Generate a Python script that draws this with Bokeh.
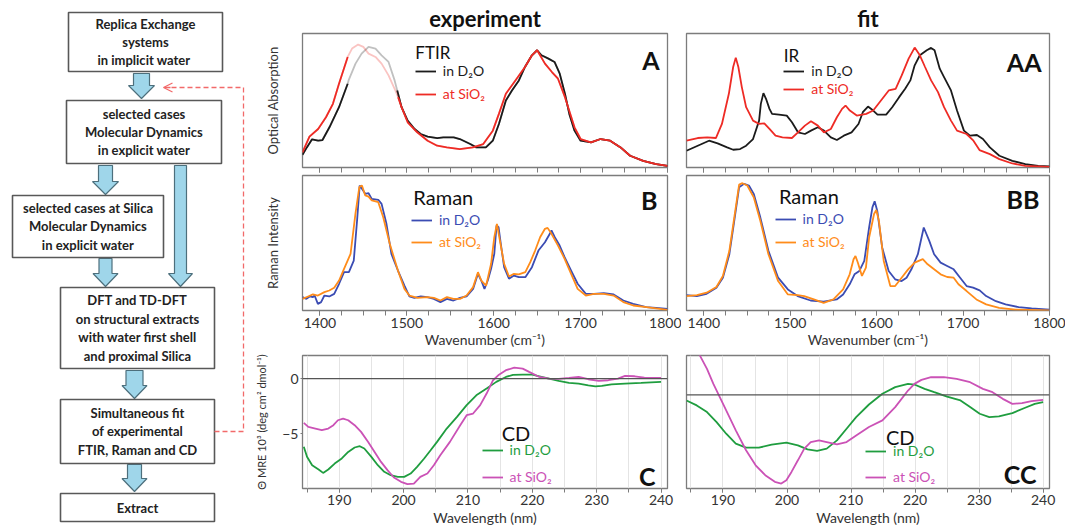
import numpy as np
from bokeh.plotting import figure
from bokeh.layouts import row, column
from bokeh.models import Range1d, FixedTicker, Legend, LegendItem, Label, Span, Arrow, OpenHead
from bokeh.core.properties import value
from bokeh.embed import file_html
from bokeh.resources import INLINE

FONT = "Lato"

# ---------------- data ----------------
# A: FTIR experiment
ftir_exp_d2o_x = [1380,1385,1391,1398,1403,1411,1422,1432,1433,1441,1448,1456,1464,1471,1479,1486,1489,1494,1501,1509,
                  1516,1524,1535,1542,1554,1561,1573,1580,1591,1599,1606,1614,1621,1629,1636,1644,1650,1655,1663,1670,
                  1676,1682,1687,1693,1700,1712,1723,1734,1746,1757,1772,1787,1800]
ftir_exp_d2o_y = [9.5,15,21,20,20.5,30,45,62.5,65,77.5,85,90,88.75,83.75,78.75,65,57.5,45,35,28.75,
                  25,23,22,22.5,22.5,21.25,17.5,15,15,20,32.5,50,57.5,65,75,83.75,87.5,83.75,81.25,78.75,
                  70,55,40,27.5,20,18.75,21.25,20,15,8.75,5,2.5,1.25]
ftir_exp_sio2_x = [1380,1388,1398,1407,1415,1422,1432,1437,1444,1450,1456,1464,1471,1479,1486,1490,1494,1501,1512,1524,
                   1535,1546,1561,1576,1588,1599,1606,1614,1625,1636,1644,1650,1659,1667,1674,1682,1693,1700,1712,1723,
                   1734,1746,1757,1772,1787,1800]
ftir_exp_sio2_y = [11.25,23,28.75,37.5,47.5,62.5,82.5,88.75,91.75,90,85,82.5,77.5,68.75,58.75,52.5,45,33.75,26.25,20,
                   16.25,15,13.75,15,17.5,27.5,40,55,65,75,83.75,87.5,77.5,71.25,66.25,52.5,30,21.25,18.75,21.25,
                   20,15,8.75,5,2.5,1.25]
ftir_faded_band = (1432.5, 1488.5)

# AA: IR fit
ir_fit_d2o_x = [1380,1393,1406,1416,1427,1434,1442,1449,1457,1464,1466,1469,1472,1476,1479,1487,1496,1502,1509,1517,
                1524,1532,1539,1547,1554,1562,1571,1579,1584,1590,1596,1601,1611,1618,1626,1633,1639,1644,1650,1658,
                1663,1667,1673,1678,1686,1693,1701,1708,1716,1723,1731,1742,1757,1772,1787,1800]
ir_fit_d2o_y = [12.5,16.25,20,18,15,13.25,13.75,16.25,21.25,35,47.5,55.5,51.25,43.75,40,39.5,38.75,33.75,26.25,25,
                27.5,30,27.5,22.5,20.5,23.75,26.25,32.5,41.25,45.5,42.5,39.5,39.5,45,52.5,58.75,65,76.25,83.75,87.5,
                89.25,87.5,73.75,67.5,57.5,42.5,27.5,23.75,24.25,21.25,15,8.75,5,2.5,1.25,0.75]
ir_fit_sio2_x = [1380,1393,1404,1414,1421,1429,1434,1437,1440,1444,1449,1457,1464,1470,1476,1483,1491,1502,1509,1517,
                 1524,1532,1539,1547,1554,1560,1564,1569,1577,1588,1596,1605,1614,1622,1629,1637,1644,1650,1656,1663,
                 1671,1678,1686,1693,1704,1712,1719,1731,1742,1757,1772,1800]
ir_fit_sio2_y = [20,22,22.5,22,32.5,55,75,82,75,60,45,35,32.5,33,28.75,23.75,22.5,22,26.25,31.25,
                 34.5,31.25,26.25,28.75,37.5,43.75,46.25,42.5,38.75,40,42.5,50,57.5,58.75,68.75,81.25,89.5,83.75,75,65,
                 56.25,45,35,27.5,25,20,13,10,6.25,3,1.25,0.5]

# B: Raman experiment
raman_exp_d2o_x = [1380,1384.5,1388.3,1392,1393.9,1397.7,1401.4,1405.2,1410.8,1416.5,1422.1,1427.8,1433.4,1439,1442.8,1445.8,
                   1448.4,1452.2,1456,1459.7,1467.2,1471,1476.6,1482.3,1489.8,1497.3,1503,1508.6,1516.1,1523.6,1531.2,
                   1538.7,1546.2,1553.7,1561.2,1568.8,1576.3,1581.9,1585.7,1589.4,1593.2,1597,1600.7,1603.3,1605.6,
                   1608.2,1612,1617.6,1623.3,1628.9,1636.4,1644,1651.5,1659,1664.6,1666.5,1670.3,1675.9,1681.6,1689.1,
                   1696.6,1706,1715.4,1726.7,1738,1749.2,1760.5,1775.6,1786.8,1800]
raman_exp_d2o_y = [9.9,8.6,10.4,9.9,11.1,4.9,6.2,11.1,10.4,12.3,19.8,28.4,28.4,37,66.7,92.6,
                   90.1,86.4,86.9,82.7,82,79,64.2,42,29.6,18.5,10.4,9.4,10.4,9.9,8.6,
                   6.2,8.6,7.4,9.4,10.4,16,27.2,22.2,16,22.2,30.9,42,63,61.7,
                   49.4,32.1,23.5,25.9,24.7,24.7,32.1,44.4,50.6,56.8,59.3,54.3,48.1,39.5,29.6,
                   19.8,12.3,12.3,12.8,11.9,7.4,4.9,2.5,2,1.2]
raman_exp_sio2_x = [1380,1386.4,1392,1397.7,1405.2,1410.8,1416.5,1422.1,1427.8,1435.3,1440.9,1445.4,1448.4,1452.2,1456,
                    1459.7,1467.2,1472.9,1480.4,1489.8,1497.3,1503,1512.4,1523.6,1531.2,1538.7,1546.2,1553.7,1561.2,
                    1568.8,1576.3,1581.9,1585.7,1591.3,1597,1600.7,1603.7,1607.1,1612,1617.6,1623.3,1628.9,1636.4,
                    1642.1,1647.7,1653.4,1659,1662,1666.5,1674,1681.6,1689.1,1696.6,1706,1715.4,1726.7,1738,1749.2,
                    1760.5,1775.6,1800]
raman_exp_sio2_y = [8.6,10.4,11.9,11.1,13.6,14.8,16.8,22.2,30.9,42,71.6,91.4,92.6,85.2,84.4,
                    81.5,80.2,69.1,49.4,29.6,16,11.1,9.4,9.9,9.4,7.4,9.9,8.6,8.6,
                    11.1,17.3,28.4,22.2,18.5,34.6,54.3,64.2,51.9,34.6,25.2,27.2,26.7,28.4,
                    35.8,44.4,54.3,60.5,61.2,56.8,48.1,38.3,27.2,16,11.1,12.3,12.3,11.1,6.2,
                    3.7,2.5,0.5]

# BB: Raman fit
raman_fit_d2o_x = [1380,1392,1403.3,1414.6,1422.1,1429.6,1435.3,1440.9,1446.6,1452.2,1457.8,1465.4,1474.8,1486,1497.3,
                   1508.6,1523.6,1538.7,1553.7,1561.2,1568.8,1574.4,1580,1585.7,1591.3,1595.1,1597.7,1600.7,1606.4,
                   1613.9,1621.4,1628.9,1634.6,1640.2,1647.7,1654.5,1660.9,1666.5,1674,1681.6,1689.1,1696.6,1704.1,
                   1711.6,1719.2,1726.7,1738,1749.2,1764.3,1779.3,1800]
raman_fit_d2o_y = [11.4,10.7,12.4,16.9,24.3,41.7,66.5,91.3,93.8,92.6,86.4,69,44.2,24.3,15.6,
                   10.7,7.4,6.5,8.2,11.9,19.4,26.8,29.3,36.7,61.5,76.4,80.9,73.9,46.7,
                   29.3,23.1,21.8,24.3,30.5,41.7,61.5,51.6,41.7,35.5,33,30.5,24.3,18.1,
                   16.9,14.9,10.7,6.9,4.5,2.5,1.5,0.7]
raman_fit_sio2_x = [1380,1392,1403.3,1414.6,1422.1,1429.6,1435.3,1440.9,1444.7,1450.3,1457.8,1465.4,1474.8,1486,1497.3,
                    1508.6,1516.1,1527.4,1538.7,1550,1561.2,1568.8,1573.3,1575.5,1578.2,1583,1587.6,1591.3,1597,1599.6,
                    1602.6,1608.2,1615.8,1621.4,1628.9,1636.4,1644,1653.4,1659,1666.5,1674,1681.6,1689.1,1694.7,1704.1,
                    1715.4,1726.7,1741.7,1760.5,1800]
raman_fit_sio2_y = [10.7,11.4,13.2,17.4,25.6,44.2,69,93.3,94.3,92.6,83.9,66.5,41.7,21.8,11.9,
                    11.4,10.7,8.2,5.7,8.2,15.6,26.8,38,40.4,35.5,25.6,31.8,54.1,71.5,74.4,
                    66.5,36.7,18.1,18.1,24.3,30.5,35.5,38,34.2,30.5,26.8,24.8,24.3,19.4,14.4,
                    8.2,4.5,2,0.7,0]

# C: CD experiment (10^3 deg cm2 dmol-1)
cd_exp_d2o_x = [184.5,185.0,185.8,186.8,187.5,188.3,189.3,190.4,191.4,192.4,193.2,193.9,195.0,196.0,197.0,198.0,199.1,
                200.1,201.1,202.1,203.2,204.2,205.2,206.7,208.3,209.8,211.3,212.9,214.4,215.9,217.0,218.5,220.0,221.1,
                222.6,224.1,225.7,227.2,228.7,229.8,230.8,232.3,234.4,236.9,240.0]
cd_exp_d2o_y = [-6.21,-7.12,-7.88,-8.27,-8.58,-8.27,-7.73,-7.27,-6.67,-6.27,-6.15,-6.36,-7.12,-7.88,-8.48,-8.79,-8.94,
                -8.94,-8.64,-8.03,-7.27,-6.52,-5.76,-4.55,-3.48,-2.42,-1.52,-0.91,-0.30,0.15,0.33,0.36,0.36,0.21,
                0.0,-0.21,-0.39,-0.45,-0.61,-0.70,-0.67,-0.52,-0.45,-0.39,-0.30]
cd_exp_sio2_x = [184.5,185.2,186.3,187.3,188.3,189.1,189.8,190.6,191.4,192.4,193.4,194.5,195.5,196.5,197.5,198.5,199.6,
                 200.6,201.6,202.6,203.7,204.7,205.7,207.2,208.8,209.8,210.8,211.9,212.9,213.9,214.7,215.9,217.2,218.5,
                 219.5,221.1,222.6,224.1,225.7,227.2,228.7,230.3,231.8,233.3,234.4,235.9,237.4,240.0]
cd_exp_sio2_y = [-4.03,-4.39,-4.55,-4.70,-4.55,-4.24,-3.79,-3.64,-3.79,-4.24,-4.85,-5.76,-6.67,-7.58,-8.33,-9.0,-9.39,
                 -9.61,-9.55,-8.94,-8.64,-7.88,-6.97,-5.76,-4.24,-3.33,-3.18,-2.42,-1.36,-0.15,0.30,0.76,1.0,0.91,
                 0.61,0.15,0.0,-0.03,0.06,0.15,-0.06,-0.21,-0.15,0.0,0.24,0.21,0.09,0.06]

# CC: CD fit
cd_fit_d2o_x = [184.3,185.9,187.5,189.0,190.5,192.0,193.6,195.6,197.6,199.9,201.7,203.2,204.7,206.2,207.8,209.3,210.8,
                212.8,214.9,216.9,218.9,219.9,221.5,223.0,225.0,227.1,228.6,230.1,231.6,233.1,235.2,237.2,238.7,240.0]
cd_fit_d2o_y = [-0.60,-1.13,-1.84,-2.91,-4.15,-5.21,-5.64,-5.64,-5.32,-5.11,-5.39,-5.82,-5.99,-5.74,-4.86,-3.62,-2.38,
                -1.03,0.11,0.82,1.17,1.10,0.64,0.28,-0.18,-0.60,-1.31,-2.02,-2.38,-2.30,-1.95,-1.38,-0.96,-0.78]
cd_fit_sio2_x = [185.4,186.4,187.5,188.5,189.5,190.5,192.0,193.6,195.1,196.6,198.1,199.1,199.9,200.7,201.7,202.7,203.7,
                 205.0,206.2,207.8,209.3,210.8,212.8,214.9,216.9,218.9,219.9,221.0,222.5,224.5,226.5,228.6,230.6,232.1,
                 233.7,235.2,236.7,238.2,240.0]
cd_fit_sio2_y = [5.78,4.18,2.77,1.17,-0.25,-1.67,-3.79,-5.92,-7.52,-8.58,-9.29,-9.47,-9.11,-8.23,-6.99,-5.74,-5.04,
                 -4.86,-5.04,-5.28,-5.04,-4.33,-3.44,-2.73,-1.31,0.46,1.17,1.60,1.88,1.88,1.70,1.35,0.64,0.28,
                 -0.43,-0.96,-0.89,-0.67,-0.53]

spec_ticks = [1400, 1500, 1600, 1700, 1800]
spec_minor = list(range(1400, 1801, 25))
cd_ticks = [190, 200, 210, 220, 230, 240]
cd_minor = list(range(185, 241, 5))
cd_yticks = [-5, 0]

# ---------------- flowchart geometry (page pixels) ----------------
BOX_L = [68, 66, 12, 60, 60, 60]
BOX_R = [222, 221, 163, 214, 214, 214]
BOX_T = [12, 100, 195, 287, 399, 493]
BOX_B = [71, 163, 257, 368, 463, 521]
BOX_TEXT = ["Replica Exchange\nsystems\nin  implicit water",
            "selected cases\nMolecular Dynamics\nin explicit water",
            "selected cases at Silica\nMolecular Dynamics\nin explicit water",
            "DFT and TD-DFT\non structural extracts\nwith water first shell\nand proximal Silica",
            "Simultaneous fit\nof experimental\nFTIR, Raman and CD",
            "Extract"]
ARR_CX = [141, 105, 180, 105, 134, 134]
ARR_Y0 = [73, 165, 165, 258, 370, 464]
ARR_Y1 = [98, 194, 286, 286, 398, 491]
ARR_SHAFT = [16, 14, 12, 13, 17, 14]
ARR_HEAD = [26, 26, 24, 25, 25, 25]
ARR_HEADLEN = 13
LOOP_X = [214, 243, 243, 170]
LOOP_Y = [431, 431, 87, 87]

# ---------------- colours ----------------
BLACK, RED = "#1b1b1b", "#ee2b25"
BLUE, ORANGE = "#3b4cb3", "#ff8c1a"
GREEN, MAGENTA = "#1f9d3f", "#cb52b6"
FRAME = "#7c7c7c"

# ---------------- flowchart figure ----------------
FLOW_W = 252
flow = figure(width=FLOW_W, height=531, x_range=Range1d(0, FLOW_W), y_range=Range1d(531, 0),
              output_backend="svg", toolbar_location=None, min_border=0, title=None)
flow.axis.visible = False
flow.grid.visible = False
flow.outline_line_color = None

xs, ys = [], []
for cx, y0, y1, sw, hw in zip(ARR_CX, ARR_Y0, ARR_Y1, ARR_SHAFT, ARR_HEAD):
    yh = y1 - ARR_HEADLEN
    xs.append([cx - sw / 2, cx + sw / 2, cx + sw / 2, cx + hw / 2, cx, cx - hw / 2, cx - sw / 2])
    ys.append([y0, y0, yh, yh, y1, yh, yh])
flow.patches(xs, ys, fill_color="#9fd6ea", line_color="#4d6f7c", line_width=1.2)

flow.quad(left=BOX_L, right=BOX_R, top=BOX_T, bottom=BOX_B,
          fill_color="white", line_color="#585858", line_width=1.6)
flow.text(x=[(l + r) / 2 for l, r in zip(BOX_L, BOX_R)], y=[(t + b) / 2 for t, b in zip(BOX_T, BOX_B)],
          text=BOX_TEXT, text_align="center", text_baseline="middle", text_font=value(FONT),
          text_font_style="bold", text_font_size="13px", text_line_height=1.15, text_color="#222222")

flow.line(LOOP_X, LOOP_Y, line_color="#f26a6a", line_width=1.3, line_dash="5 3")
flow.add_layout(Arrow(end=OpenHead(size=9, line_color="#f26a6a", line_width=1.3),
                      x_start=LOOP_X[-1], y_start=LOOP_Y[-1], x_end=LOOP_X[-1] - 7, y_end=LOOP_Y[-1],
                      line_color="#f26a6a", line_width=1.3))

# ---------------- panels ----------------
REF_W = (372, 373)          # frame widths measured on the reference
FRAME_W = (365, 363)        # a little narrower so that the last tick label stays inside
BORDER_LR = ((47, 17), (2, 19))


def make_panel(col, frame_h, top, bottom, xr, yr, title=None, title_offset=0):
    bl, br = BORDER_LR[col]
    p = figure(frame_width=FRAME_W[col], frame_height=frame_h, x_range=Range1d(*xr), y_range=Range1d(*yr),
               output_backend="svg", toolbar_location=None, title=title,
               min_border_left=bl, min_border_right=br, min_border_top=top, min_border_bottom=bottom)
    p.grid.visible = False
    p.outline_line_color = FRAME
    p.outline_line_width = 1.3
    p.background_fill_color = "white"
    p.border_fill_color = "white"
    for ax in p.axis:
        ax.axis_line_color = None
        ax.major_tick_line_color = FRAME
        ax.minor_tick_line_color = FRAME
        ax.major_tick_in = 0
        ax.minor_tick_in = 0
        ax.major_label_text_font = FONT
        ax.major_label_text_font_size = "14px"
        ax.major_label_text_color = "#333333"
        ax.axis_label_text_font = FONT
        ax.axis_label_text_font_style = "normal"
        ax.axis_label_text_color = "#333333"
    if col == 1:
        p.yaxis.visible = False
    if title is not None:
        p.title.align = "center"
        p.title.offset = title_offset
        p.title.text_font = FONT
        p.title.text_font_size = "22px"
        p.title.text_font_style = "bold"
        p.title.text_color = "#111111"
        p.title.standoff = 3
    return p


def spectral_axes(p, labels, ylabel=None):
    p.xaxis.ticker = FixedTicker(ticks=spec_ticks, minor_ticks=spec_minor)
    p.xaxis.major_tick_out = 5
    p.xaxis.minor_tick_out = 5
    if labels:
        p.xaxis.major_label_standoff = 2
        p.xaxis.axis_label = "Wavenumber (cm⁻¹)"
        p.xaxis.axis_label_text_font_size = "14px"
        p.xaxis.axis_label_standoff = 0
    else:
        p.xaxis.major_label_standoff = 0
        p.xaxis.major_label_text_font_size = "0px"
        p.xaxis.major_label_text_color = None
    if ylabel is not None:
        p.yaxis.ticker = FixedTicker(ticks=[])
        p.yaxis.major_tick_out = 0
        p.yaxis.major_label_standoff = 0
        p.yaxis.axis_label = ylabel
        p.yaxis.axis_label_text_font_size = "13px"
        p.yaxis.axis_label_standoff = 22


def cd_axes(p, ylabel):
    p.xaxis.ticker = FixedTicker(ticks=cd_ticks, minor_ticks=cd_minor)
    p.xaxis.major_tick_out = 4
    p.xaxis.minor_tick_out = 4
    p.xaxis.major_label_standoff = 2
    p.xaxis.axis_label = "Wavelength (nm)"
    p.xaxis.axis_label_text_font_size = "14px"
    p.xaxis.axis_label_standoff = 1
    p.xgrid.visible = True
    p.xgrid.ticker = FixedTicker(ticks=cd_minor)
    p.xgrid.grid_line_color = "#e4e4e4"
    p.add_layout(Span(location=0, dimension="width", line_color="#555555", line_width=1.2))
    if ylabel:
        p.yaxis.ticker = FixedTicker(ticks=cd_yticks, minor_ticks=[])
        p.yaxis.major_tick_out = 2
        p.yaxis.major_label_standoff = 2
        p.yaxis.axis_label = "Θ MRE 10³ (deg cm² dmol⁻¹)"
        p.yaxis.axis_label_text_font_size = "11px"
        p.yaxis.axis_label_standoff = 11


def sx(col, v):
    return v * FRAME_W[col] / REF_W[col]


def add_item(p, col, r, label, color, vx, vy):
    p.add_layout(Legend(items=[LegendItem(label=label, renderers=[r])], location=(sx(col, vx), vy),
                        border_line_color=None, background_fill_alpha=0, padding=0, margin=0, spacing=0,
                        glyph_width=21, glyph_height=16, label_height=16, label_standoff=7,
                        label_text_font=FONT, label_text_font_size="14px", label_text_color=color))


def add_text(p, col, text, x, y, size):
    p.add_layout(Label(x=sx(col, x), y=y, x_units="screen", y_units="screen", text=text, text_font=FONT,
                       text_font_size=size, text_align="left", text_baseline="middle", text_color="#111111"))


def add_letter(p, col, text, inset, y):
    p.add_layout(Label(x=FRAME_W[col] - inset, y=y, x_units="screen", y_units="screen", text=text,
                       text_font=FONT, text_font_size="25px", text_font_style="bold",
                       text_align="right", text_baseline="middle", text_color="#111111"))


def faded(p, x, y, color, band):
    xa = np.asarray(x, float)
    ya = np.asarray(y, float)
    p.line(xa, ya, line_color=color, line_width=1.8, line_alpha=0.28)
    solid = np.where((xa > band[0]) & (xa < band[1]), np.nan, ya)
    return p.line(xa, solid, line_color=color, line_width=1.8)


SPEC_X = (1380, 1800)
SPEC_Y = (0, 100)
A_FH, B_FH, C_FH = 134, 135, 133

# A
pA = make_panel(0, A_FH, 33, 6, SPEC_X, SPEC_Y, title="experiment", title_offset=10)
spectral_axes(pA, False, "Optical Absorption")
rA1 = faded(pA, ftir_exp_d2o_x, ftir_exp_d2o_y, BLACK, ftir_faded_band)
rA2 = faded(pA, ftir_exp_sio2_x, ftir_exp_sio2_y, RED, ftir_faded_band)
add_text(pA, 0, "FTIR", 115, 115, "17px")
add_item(pA, 0, rA1, "in D₂O", BLACK, 115, 88)
add_item(pA, 0, rA2, "at SiO₂", RED, 115, 65)
add_letter(pA, 0, "A", 8, 108)

# AA
pAA = make_panel(1, A_FH, 33, 6, SPEC_X, SPEC_Y, title="fit", title_offset=-6)
spectral_axes(pAA, False)
rAA1 = pAA.line(ir_fit_d2o_x, ir_fit_d2o_y, line_color=BLACK, line_width=1.8)
rAA2 = pAA.line(ir_fit_sio2_x, ir_fit_sio2_y, line_color=RED, line_width=1.8)
add_text(pAA, 1, "IR", 100, 112, "17px")
add_item(pAA, 1, rAA1, "in D₂O", BLACK, 100, 88)
add_item(pAA, 1, rAA2, "at SiO₂", RED, 100, 70)
add_letter(pAA, 1, "AA", 8, 106)

# B
pB = make_panel(0, B_FH, 2, 42, SPEC_X, SPEC_Y)
spectral_axes(pB, True, "Raman Intensity")
rB1 = pB.line(raman_exp_d2o_x, raman_exp_d2o_y, line_color=BLUE, line_width=1.8)
rB2 = pB.line(raman_exp_sio2_x, raman_exp_sio2_y, line_color=ORANGE, line_width=1.8)
add_text(pB, 0, "Raman", 113, 114, "20px")
add_item(pB, 0, rB1, "in D₂O", BLUE, 111, 82)
add_item(pB, 0, rB2, "at SiO₂", ORANGE, 111, 60)
add_letter(pB, 0, "B", 10, 111)

# BB
pBB = make_panel(1, B_FH, 2, 42, SPEC_X, SPEC_Y)
spectral_axes(pBB, True)
rBB1 = pBB.line(raman_fit_d2o_x, raman_fit_d2o_y, line_color=BLUE, line_width=1.8)
rBB2 = pBB.line(raman_fit_sio2_x, raman_fit_sio2_y, line_color=ORANGE, line_width=1.8)
add_text(pBB, 1, "Raman", 95, 115, "20px")
add_item(pBB, 1, rBB1, "in D₂O", BLUE, 91, 83)
add_item(pBB, 1, rBB2, "at SiO₂", ORANGE, 91, 60)
add_letter(pBB, 1, "BB", 10, 112)

CD_X = (184.3, 241.0)

# C
pC = make_panel(0, C_FH, 3, 42, CD_X, (-10, 2.1))
cd_axes(pC, True)
rC1 = pC.line(cd_exp_d2o_x, cd_exp_d2o_y, line_color=GREEN, line_width=1.8)
rC2 = pC.line(cd_exp_sio2_x, cd_exp_sio2_y, line_color=MAGENTA, line_width=1.8)
add_text(pC, 0, "CD", 203, 56, "20px")
add_item(pC, 0, rC1, "in D₂O", GREEN, 183, 30)
add_item(pC, 0, rC2, "at SiO₂", MAGENTA, 183, 3)
add_letter(pC, 0, "C", 12, 13)

# CC
pCC = make_panel(1, C_FH, 3, 42, CD_X, (-10, 4.2))
cd_axes(pCC, False)
rCC1 = pCC.line(cd_fit_d2o_x, cd_fit_d2o_y, line_color=GREEN, line_width=1.8)
rCC2 = pCC.line(cd_fit_sio2_x, cd_fit_sio2_y, line_color=MAGENTA, line_width=1.8)
add_text(pCC, 1, "CD", 205, 52, "20px")
add_item(pCC, 1, rCC1, "in D₂O", GREEN, 184, 29)
add_item(pCC, 1, rCC2, "at SiO₂", MAGENTA, 184, 3)
add_letter(pCC, 1, "CC", 13, 15)

layout = row(flow, column(pA, pB, pC, spacing=0), column(pAA, pBB, pCC, spacing=0), spacing=0)

open("out.html", "w").write(file_html(layout, INLINE))
